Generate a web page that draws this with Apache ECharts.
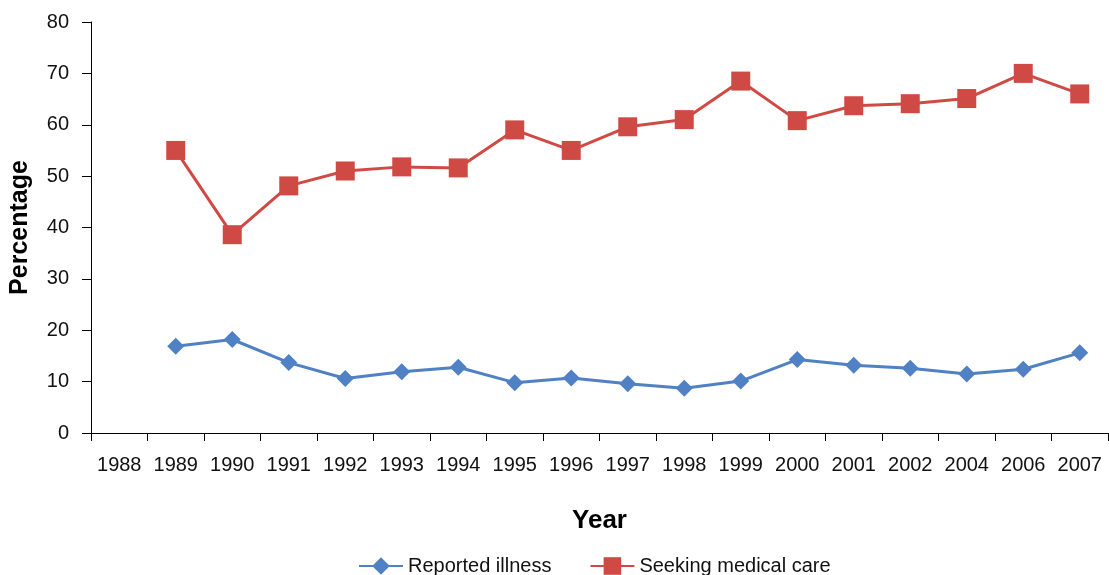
<!DOCTYPE html>
<html>
<head>
<meta charset="utf-8">
<script src="https://cdn.jsdelivr.net/npm/echarts@6/dist/echarts.min.js"></script>
<style>html,body{margin:0;padding:0;background:#fff}#c{width:1109px;height:575px}</style>
</head>
<body>
<div id="c"></div>
<script>
const categories = ['1988','1989','1990','1991','1992','1993','1994','1995','1996','1997','1998','1999','2000','2001','2002','2004','2006','2007'];
const reportedIllness = [null,16.9,18.2,13.7,10.6,11.9,12.8,9.8,10.7,9.6,8.7,10.1,14.3,13.2,12.6,11.5,12.4,15.6];
const seekingCare = [null,55.0,38.6,48.1,51.0,51.8,51.6,59.0,55.0,59.6,61.0,68.5,60.8,63.7,64.1,65.1,70.0,66.0];
const yTicks = [0,10,20,30,40,50,60,70,80];

const FONT = 'Liberation Sans, Arial, sans-serif';
const chart = echarts.init(document.getElementById('c'), null, {renderer:'canvas'});
chart.setOption({
  animation: false,
  backgroundColor: '#fff',
  textStyle: {fontFamily: FONT},
  grid: {left: 91, right: 1, top: 22, bottom: 142, containLabel: false},
  legend: {
    top: 551, left: 353,
    itemWidth: 44, itemHeight: 22, itemGap: 38,
    textStyle: {fontFamily: FONT, fontSize: 20, color: '#111'},
    data: ['Reported illness','Seeking medical care']
  },
  xAxis: {
    type: 'category', data: categories, boundaryGap: true,
    name: 'Year', nameLocation: 'middle', nameGap: 75,
    nameTextStyle: {fontFamily: FONT, fontSize: 26, fontWeight: 'bold', color: '#000'},
    axisLine: {lineStyle: {color: '#000', width: 1}},
    axisTick: {show: true, length: 8, alignWithLabel: false, lineStyle: {color: '#000'}},
    axisLabel: {margin: 22, fontSize: 20, color: '#111', fontFamily: FONT, interval: 0},
    splitLine: {show: false}
  },
  yAxis: {
    type: 'value', min: yTicks[0], max: yTicks[yTicks.length-1], interval: 10,
    name: 'Percentage', nameLocation: 'middle', nameGap: 58,
    nameTextStyle: {fontFamily: FONT, fontSize: 25, fontWeight: 'bold', color: '#000'},
    axisLine: {show: true, lineStyle: {color: '#000', width: 1}},
    axisTick: {show: true, length: 9, lineStyle: {color: '#000'}},
    axisLabel: {margin: 22, fontSize: 20, color: '#111', fontFamily: FONT},
    splitLine: {show: false}
  },
  series: [
    {
      name: 'Reported illness', type: 'line', data: reportedIllness,
      symbol: 'diamond', symbolSize: 17, showAllSymbol: true,
      itemStyle: {color: '#4f81c4'},
      lineStyle: {color: '#4f81c4', width: 3}
    },
    {
      name: 'Seeking medical care', type: 'line', data: seekingCare,
      symbol: 'rect', symbolSize: 19, showAllSymbol: true,
      itemStyle: {color: '#d04a45'},
      lineStyle: {color: '#d04a45', width: 3}
    }
  ]
});
</script>
</body>
</html>
